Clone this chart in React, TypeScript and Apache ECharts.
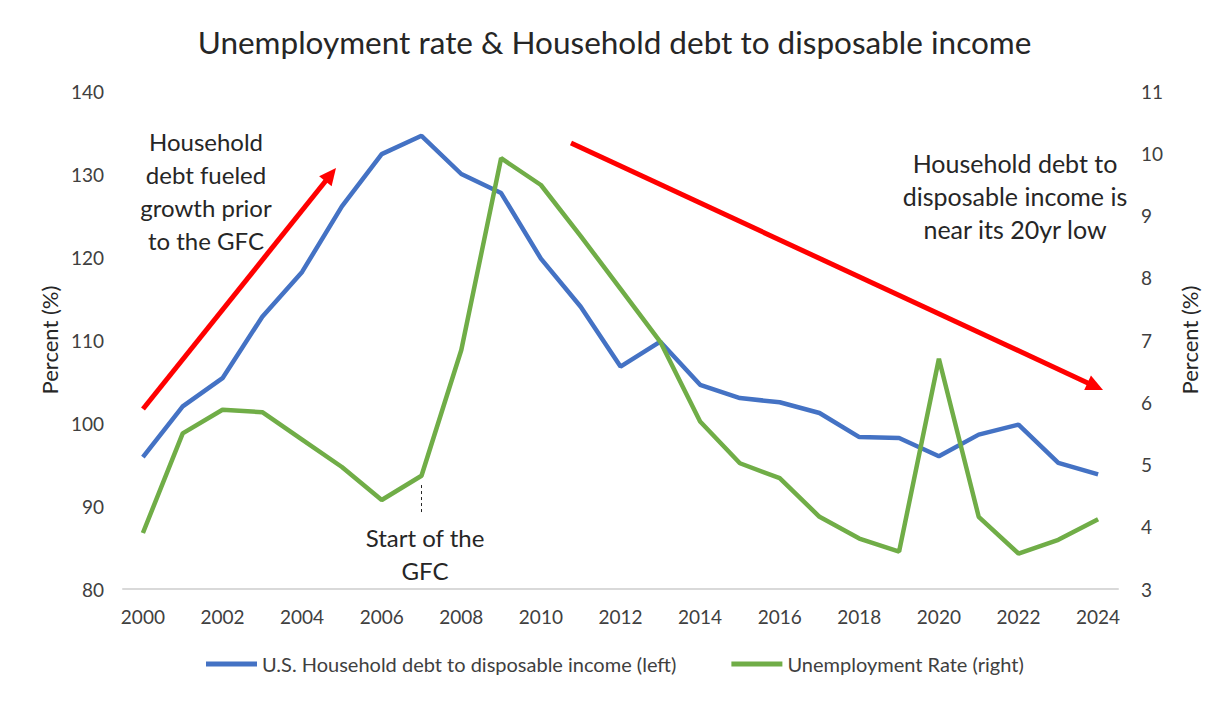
import React, { useEffect, useRef } from "react";
import * as echarts from "echarts";

const years = [
  "2000", "2001", "2002", "2003", "2004", "2005", "2006", "2007", "2008", "2009",
  "2010", "2011", "2012", "2013", "2014", "2015", "2016", "2017", "2018", "2019",
  "2020", "2021", "2022", "2023", "2024",
];

const debtToIncome = [
  95.9, 102.0, 105.4, 112.8, 118.2, 126.1, 132.4, 134.6, 130.0, 127.7,
  119.8, 114.0, 106.8, 109.8, 104.6, 103.0, 102.5, 101.2, 98.3, 98.2,
  96.0, 98.6, 99.8, 95.2, 93.8,
];

const unemployment = [
  3.9, 5.5, 5.88, 5.84, 5.4, 4.96, 4.43, 4.82, 6.84, 9.92,
  9.49, 8.67, 7.82, 6.97, 5.69, 5.02, 4.78, 4.16, 3.81, 3.6,
  6.7, 4.16, 3.57, 3.79, 4.12,
];

const leftTicks = { min: 80, max: 140, interval: 10 };
const rightTicks = { min: 3, max: 11, interval: 1 };

const FONT = "Lato, 'Open Sans', sans-serif";
const RED = "#FF0000";

export default function App() {
  const ref = useRef<HTMLDivElement>(null);

  useEffect(() => {
    if (!ref.current) return;
    const chart = echarts.init(ref.current, null, { renderer: "svg" });

    const arrow = (x1: number, y1: number, x2: number, y2: number) => {
      const dx = x2 - x1;
      const dy = y2 - y1;
      const len = Math.sqrt(dx * dx + dy * dy);
      const ux = dx / len;
      const uy = dy / len;
      const headLen = 17;
      const headHalf = 8;
      const bx = x2 - ux * headLen;
      const by = y2 - uy * headLen;
      const px = -uy * headHalf;
      const py = ux * headHalf;
      return [
        {
          type: "line",
          shape: { x1, y1, x2: bx + ux * 2, y2: by + uy * 2 },
          style: { stroke: RED, lineWidth: 5 },
          z: 10,
        },
        {
          type: "polygon",
          shape: {
            points: [
              [x2, y2],
              [bx + px, by + py],
              [bx - px, by - py],
            ],
          },
          style: { fill: RED },
          z: 10,
        },
      ];
    };

    const annotation = (x: number, y: number, text: string, size: number, lineHeight: number) => ({
      type: "text",
      x,
      y,
      style: {
        text,
        align: "center",
        verticalAlign: "top",
        font: `${size}px ${FONT}`,
        fill: "#262626",
        lineHeight,
      },
      z: 11,
    });

    const option: any = {
      animation: false,
      backgroundColor: "#ffffff",
      textStyle: { fontFamily: FONT },
      title: {
        text: "Unemployment rate & Household debt to disposable income",
        left: "center",
        top: 21,
        textStyle: {
          fontFamily: FONT,
          fontSize: 31.5,
          fontWeight: "normal",
          color: "#262626",
        },
      },
      grid: { left: 123, right: 111, top: 91, bottom: 112, containLabel: false },
      legend: {
        bottom: 22,
        left: 201,
        itemGap: 55,
        itemWidth: 51,
        itemHeight: 5,
        icon: "rect",
        textStyle: { fontFamily: FONT, fontSize: 20, color: "#404040" },
        data: [
          "U.S. Household debt to disposable income (left)",
          "Unemployment Rate (right)",
        ],
      },
      xAxis: {
        type: "category",
        data: years,
        boundaryGap: true,
        axisLine: { lineStyle: { color: "#D9D9D9", width: 2 } },
        axisTick: { show: false },
        axisLabel: {
          interval: 1,
          margin: 18,
          fontFamily: FONT,
          fontSize: 19,
          color: "#404040",
        },
        splitLine: { show: false },
      },
      yAxis: [
        {
          type: "value",
          position: "left",
          min: leftTicks.min,
          max: leftTicks.max,
          interval: leftTicks.interval,
          name: "Percent (%)",
          nameLocation: "middle",
          nameGap: 55,
          nameTextStyle: { fontFamily: FONT, fontSize: 22, color: "#262626" },
          axisLine: { show: false },
          axisTick: { show: false },
          splitLine: { show: false },
          axisLabel: { margin: 19, fontFamily: FONT, fontSize: 19, color: "#404040" },
        },
        {
          type: "value",
          position: "right",
          min: rightTicks.min,
          max: rightTicks.max,
          interval: rightTicks.interval,
          name: "Percent (%)",
          nameLocation: "middle",
          nameGap: 60,
          nameRotate: 90,
          nameTextStyle: { fontFamily: FONT, fontSize: 22, color: "#262626" },
          axisLine: { show: false },
          axisTick: { show: false },
          splitLine: { show: false },
          axisLabel: { margin: 23, fontFamily: FONT, fontSize: 19, color: "#404040" },
        },
      ],
      series: [
        {
          name: "U.S. Household debt to disposable income (left)",
          type: "line",
          yAxisIndex: 0,
          data: debtToIncome,
          symbol: "none",
          color: "#4472C4",
          lineStyle: { width: 4.5, color: "#4472C4" },
          z: 3,
        },
        {
          name: "Unemployment Rate (right)",
          type: "line",
          yAxisIndex: 1,
          data: unemployment,
          symbol: "none",
          color: "#70AD47",
          lineStyle: { width: 4.5, color: "#70AD47" },
          z: 4,
          markLine: {
            silent: true,
            symbol: ["none", "none"],
            label: { show: false },
            lineStyle: { type: [3, 3], color: "#262626", width: 1 },
            data: [
              [
                { coord: ["2007", 4.67] },
                { coord: ["2007", 4.19] },
              ],
            ],
          },
        },
      ],
      graphic: [
        ...arrow(143, 409, 336, 168),
        ...arrow(571, 143, 1103, 390),
        annotation(206, 125, "Household\ndebt fueled\ngrowth prior\nto the GFC", 24, 33),
        annotation(1015, 146, "Household debt to\ndisposable income is\nnear its 20yr low", 25, 33),
        annotation(425, 521, "Start of the\nGFC", 24, 33),
      ],
    };

    chart.setOption(option);
    return () => chart.dispose();
  }, []);

  return (
    <div
      ref={ref}
      style={{ position: "fixed", left: 0, top: 0, width: 1229, height: 701 }}
    />
  );
}
